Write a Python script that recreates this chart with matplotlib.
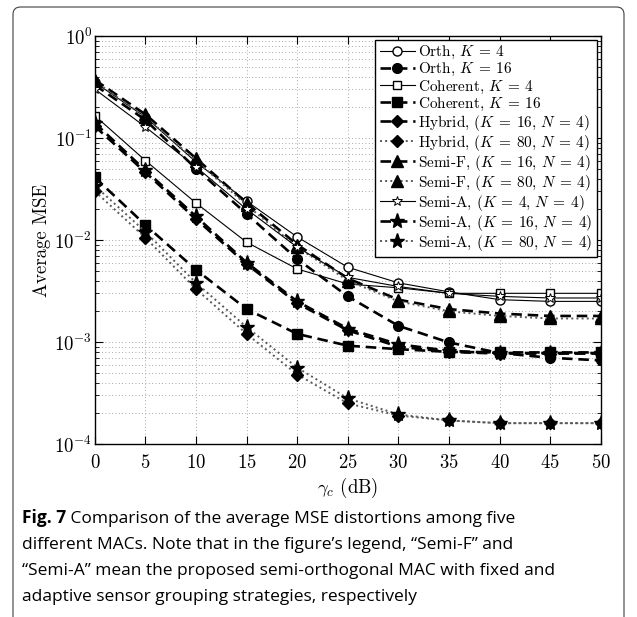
import matplotlib
matplotlib.use('Agg')
import matplotlib.pyplot as plt
from matplotlib.patches import FancyBboxPatch
import numpy as np

plt.rcParams['font.family'] = 'cmr10'
plt.rcParams['mathtext.fontset'] = 'cm'
plt.rcParams['axes.formatter.use_mathtext'] = True

#%% data
snr = [0, 5, 10, 15, 20, 25, 30, 35, 40, 45, 50]
orth4 = [0.35, 0.16, 0.058, 0.024, 0.0107, 0.0054, 0.0038, 0.0031, 0.0026, 0.0025, 0.0025]
orth16 = [0.33, 0.15, 0.05, 0.018, 0.0065, 0.0028, 0.00144, 0.00099, 0.00078, 0.00070, 0.00066]
coh4 = [0.165, 0.06, 0.023, 0.0095, 0.0052, 0.0037, 0.0034, 0.0030, 0.0030, 0.0030, 0.0030]
coh16 = [0.041, 0.014, 0.0051, 0.0021, 0.0012, 0.00092, 0.00085, 0.0008, 0.00079, 0.00079, 0.00079]
hyb16 = [0.13, 0.046, 0.016, 0.0058, 0.0024, 0.0013, 0.0009, 0.0008, 0.00077, 0.00077, 0.00077]
hyb80 = [0.030, 0.0105, 0.0033, 0.0012, 0.00048, 0.00025, 0.00019, 0.00017, 0.00016, 0.00016, 0.00016]
semif16 = [0.37, 0.17, 0.063, 0.023, 0.009, 0.0042, 0.0026, 0.0021, 0.0019, 0.0018, 0.0018]
semif80 = [0.36, 0.16, 0.06, 0.022, 0.0085, 0.004, 0.0025, 0.002, 0.0018, 0.0017, 0.0017]
semia4 = [0.30, 0.128, 0.052, 0.02, 0.0085, 0.0043, 0.0035, 0.0030, 0.0028, 0.0027, 0.0027]
semia16 = [0.14, 0.048, 0.017, 0.006, 0.0025, 0.00135, 0.00095, 0.00082, 0.00078, 0.00078, 0.00078]
semia80 = [0.034, 0.012, 0.0038, 0.0014, 0.00056, 0.00028, 0.000195, 0.00017, 0.00016, 0.00016, 0.00016]

caption1 = ' Comparison of the average MSE distortions among five'
caption2 = 'different MACs. Note that in the figure\u2019s legend, \u201cSemi-F\u201d and'
caption3 = '\u201cSemi-A\u201d mean the proposed semi-orthogonal MAC with fixed and'
caption4 = 'adaptive sensor grouping strategies, respectively'

#%% fig
fig = plt.figure(figsize=(6.37, 6.17), dpi=100)
ax = fig.add_axes([0.149, 0.2804, 0.794, 0.6613])

dash = (4, 2.2)
solid = dict(c='k', lw=0.8, ls='-')
dashed = dict(c='k', lw=1.9, dashes=dash)
dotted = dict(c='0.35', lw=1.4, ls=':')

ax.plot(snr, orth4, marker='o', ms=6.5, mfc='w', mec='k', label=r'Orth, $K\:=\:4$', **solid)
ax.plot(snr, orth16, marker='o', ms=7, mfc='k', mec='k', label=r'Orth, $K\:=\:16$', **dashed)
ax.plot(snr, coh4, marker='s', ms=5.5, mfc='w', mec='k', label=r'Coherent, $K\:=\:4$', **solid)
ax.plot(snr, coh16, marker='s', ms=6.5, mfc='k', mec='k', label=r'Coherent, $K\:=\:16$', **dashed)
ax.plot(snr, hyb16, marker='D', ms=6, mfc='k', mec='k', label=r'Hybrid, $(K\:=\:16,\,N\:=\:4)$', **dashed)
ax.plot(snr, hyb80, marker='D', ms=6, mfc='k', mec='k', label=r'Hybrid, $(K\:=\:80,\,N\:=\:4)$', **dotted)
ax.plot(snr, semif16, marker='^', ms=8, mfc='k', mec='k', label=r'Semi-F, $(K\:=\:16,\,N\:=\:4)$', **dashed)
ax.plot(snr, semif80, marker='^', ms=8, mfc='k', mec='k', label=r'Semi-F, $(K\:=\:80,\,N\:=\:4)$', **dotted)
ax.plot(snr, semia4, marker='*', ms=7, mfc='w', mec='k', mew=0.7, label=r'Semi-A, $(K\:=\:4,\,N\:=\:4)$', **solid)
ax.plot(snr, semia16, marker='*', ms=11, mfc='k', mec='k', label=r'Semi-A, $(K\:=\:16,\,N\:=\:4)$', **dashed)
ax.plot(snr, semia80, marker='*', ms=11, mfc='k', mec='k', label=r'Semi-A, $(K\:=\:80,\,N\:=\:4)$', **dotted)

ax.set_yscale('log')
ax.set_xlim([0, 50])
ax.set_ylim([1e-4, 1])
ax.set_xticks(np.arange(0, 51, 5))
ax.grid(True, which='major', dashes=(1, 3), c='0.55', lw=0.6)
ax.grid(True, which='minor', axis='y', dashes=(1, 3), c='0.55', lw=0.6)
ax.tick_params(which='both', direction='in', top=True, right=True, labelsize=13.5)
ax.tick_params(which='major', length=6)
ax.tick_params(which='minor', length=3)
ax.tick_params(axis='x', pad=7)
ax.tick_params(axis='y', pad=2)
for s in ax.spines.values():
    s.set_linewidth(1.0)

ax.set_ylabel('Average MSE', fontsize=13.5, labelpad=2)
ax.set_xlabel(r'$\gamma_c$ (dB)', fontsize=13.5, labelpad=3)

leg = ax.legend(loc='upper right', ncol=1, fontsize=11, labelspacing=0.0, numpoints=1,
                handlelength=2.3, handletextpad=0.2, borderpad=0.3, borderaxespad=0.25,
                fancybox=False, framealpha=1, edgecolor='k')
leg.get_frame().set_linewidth(1.0)

#%% caption and frame
frame = FancyBboxPatch((13 / 637, -0.1), 611 / 637, 1.1 - 7 / 617,
                       boxstyle='round,pad=0,rounding_size=0.012',
                       transform=fig.transFigure, fc='none', ec='0.25', lw=0.8,
                       clip_on=False)
fig.add_artist(frame)

cfs = 12.5
cap = dict(fontsize=cfs, family='Open Sans', color='k', va='baseline')
t1 = fig.text(22 / 637, 1 - 523 / 617, 'Fig. 7', fontweight='bold', **cap)
ax.annotate(caption1, xy=(1, 0), xycoords=t1, va='bottom', fontsize=cfs,
            family='Open Sans', color='k', annotation_clip=False)
fig.text(22 / 637, 1 - 549 / 617, caption2, **cap)
fig.text(22 / 637, 1 - 575 / 617, caption3, **cap)
fig.text(22 / 637, 1 - 601 / 617, caption4, **cap)

plt.savefig('out.png', dpi=100, transparent=False)
